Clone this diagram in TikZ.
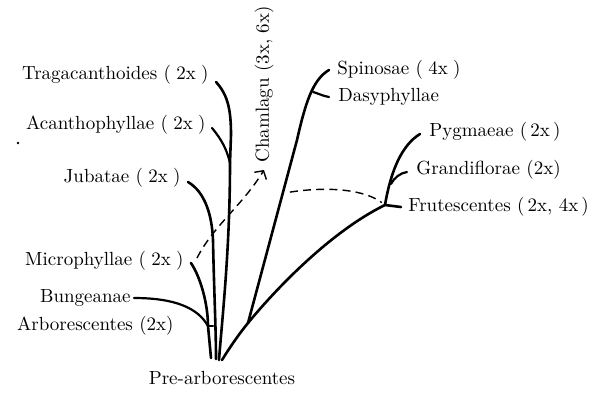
\documentclass[tikz,border=0pt]{standalone}
\usetikzlibrary{arrows.meta}
\tikzset{
  taxon/.style = {font=\fontsize{9.5}{11}\selectfont, inner sep=1.5pt},
  stem/.style = {line width=1.3pt, line cap=round},
  twig/.style = {line width=1.1pt, line cap=round},
  hybrid/.style = {line width=0.7pt, dash pattern=on 4pt off 2.6pt}
}
\begin{document}
\begin{tikzpicture}[x=0.5pt, y=-0.5pt]
\useasboundingbox (0,0) rectangle (596,392);

% taxa on the left
\node[taxon, anchor=east] (trag) at (212,75) {Tragacanthoides (\;2x\;)};
\node[taxon, anchor=east] (acan) at (209,125) {Acanthophyllae (\;2x\;)};
\node[taxon, anchor=east] (juba) at (184,178) {Jubatae (\;2x\;)};
\node[taxon, anchor=east] (micro) at (187,261) {Microphyllae (\;2x\;)};
\node[taxon, anchor=east] (bung) at (134,298) {Bungeanae};
\node[taxon, anchor=east] (arbo) at (177,326) {Arborescentes (2x)};
\node[taxon] (pre) at (222,378) {Pre-arborescentes};

% taxa on the right
\node[taxon, rotate=90, anchor=west] (cham) at (264,166) {Chamlagu (3x, 6x)};
\node[taxon, anchor=west] (spin) at (334,70) {Spinosae (\;4x\;)};
\node[taxon, anchor=west] (dasy) at (335,97) {Dasyphyllae};
\node[taxon, anchor=west] (pygm) at (426,132) {Pygmaeae (\,2x\,)};
\node[taxon, anchor=west] (gran) at (413,170) {Grandiflorae (2x)};
\node[taxon, anchor=west] (frut) at (405,207) {Frutescentes (\,2x, 4x\,)};

% branching points
\coordinate (base1) at (211,358);
\coordinate (base2) at (216,359);
\coordinate (base3) at (219,360);
\coordinate (base4) at (222,360);
\coordinate (jacan) at (230,163);
\coordinate (jbung) at (208,326);
\coordinate (jcham) at (248,323);
\coordinate (jdasy) at (313,92);
\coordinate (jfrut) at (385,205);
\coordinate (jgran) at (391,184);
\coordinate (jdash) at (284,193);

% stems
\draw[stem] ([shift={(4,7)}]trag.east) .. controls (228,95) and (231,110) .. (231,135)
  -- (jacan) .. controls (230,250) and (222,320) .. (base3);
\draw[twig] ([shift={(3,3)}]acan.east) .. controls (222,140) and (227,150) .. (jacan);
\draw[stem] ([shift={(4,4)}]juba.east) .. controls (205,192) and (212,215) .. (213,240)
  .. controls (214,290) and (216,330) .. (base2);
\draw[stem] ([shift={(4,2)}]micro.east) .. controls (201,278) and (208,305) .. (jbung) -- (base1);
\draw[twig] (bung.east) .. controls (175,298) and (198,308) .. (jbung);
\draw[twig] ([xshift=18]arbo.east) -- (jbung);
\draw[stem] ([shift={(-5,0)}]spin.west) .. controls (312,80) and (305,105) .. (297,140)
  -- (jcham);
\draw[twig] ([xshift=-3]dasy.west) .. controls (323,96) and (317,93) .. (jdasy);
\draw[stem] (base4) .. controls (230,347) and (239,334) .. (jcham)
  .. controls (275,290) and (330,232) .. (jfrut) -- ([xshift=-2]frut.west);
\draw[stem] ([shift={(-6,2)}]pygm.west) .. controls (402,145) and (391,170) .. (jfrut);
\draw[twig] ([shift={(-6,2)}]gran.west) .. controls (400,173) and (394,178) .. (jgran);

% hybrid origins
\draw[hybrid, -{Straight Barb[length=3pt, width=7pt]}] ([shift={(10,-3)}]micro.east)
  .. controls (214,225) and (242,206) .. ([yshift=-2]cham.west);
\draw[hybrid, shorten <=3pt, shorten >=2pt] (jdash) .. controls (330,186) and (365,190) .. (jfrut);

% speck
\fill (18,143) circle (1.4);
\end{tikzpicture}
\end{document}
